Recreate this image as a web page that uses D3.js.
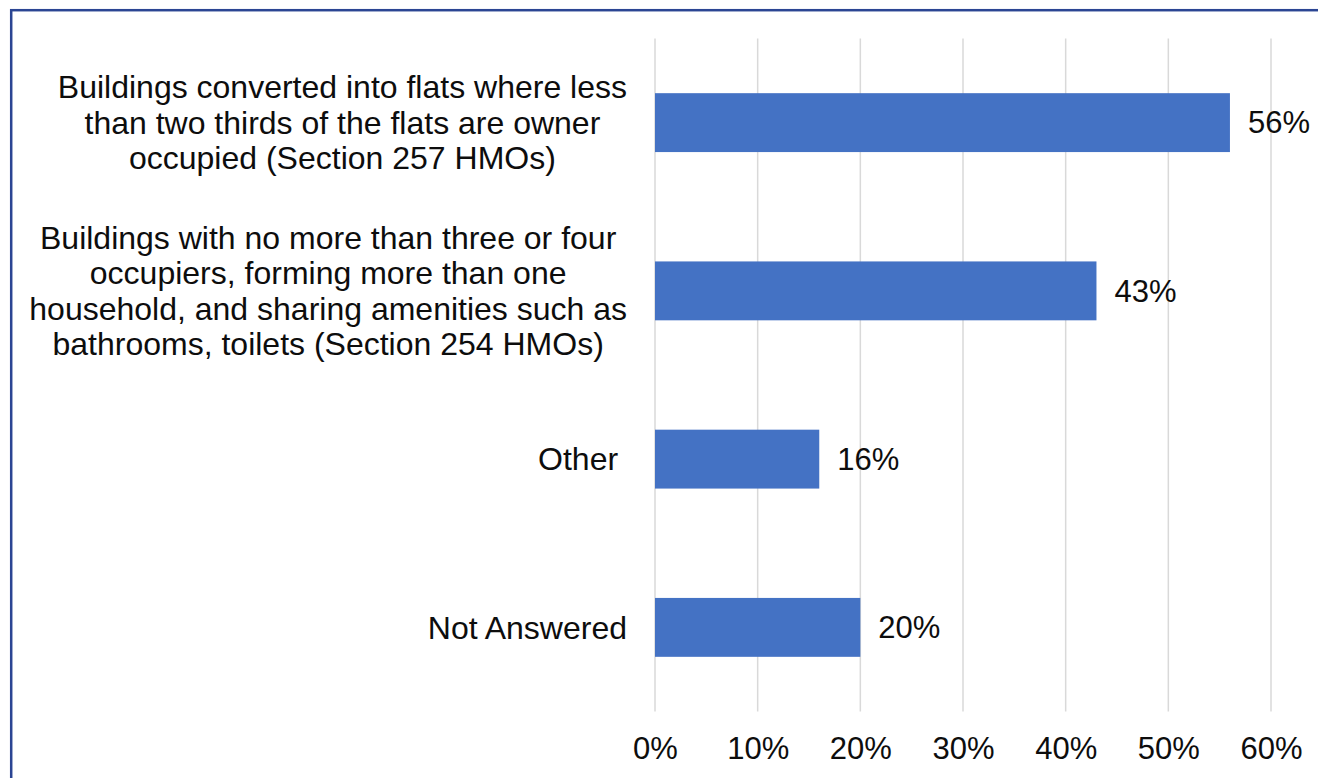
<!DOCTYPE html>
<html>
<head>
<meta charset="utf-8">
<script src="https://cdn.jsdelivr.net/npm/d3@7"></script>
<style>
  html, body { margin: 0; padding: 0; background: #ffffff; }
  svg { display: block; font-family: "Liberation Sans", Arial, sans-serif; }
</style>
</head>
<body>
<svg id="chart" width="1318" height="778"></svg>
<script>
// Category labels, one array of lines per category
const categoryLines = [
  ["Buildings converted into flats where less", "than two thirds of the flats are owner", "occupied (Section 257 HMOs)"],
  ["Buildings with no more than three or four", "occupiers, forming more than one", "household, and sharing amenities such as", "bathrooms, toilets (Section 254 HMOs)"],
  ["Other "],
  ["Not Answered"]
];
const shares = [0.56, 0.43, 0.16, 0.20];
const tickValues = [0, 0.1, 0.2, 0.3, 0.4, 0.5, 0.6];
const tickLabels = ["0%", "10%", "20%", "30%", "40%", "50%", "60%"];

const svg = d3.select("#chart");
const W = 1318, H = 778;
const fontSize = 31;
const catFontSize = 32;
const lineHeight = 35.5;
const barColor = "#4472C4";
const textColor = "#0d0d0d";

// Frame border (top and left edges visible in the canvas)
svg.append("rect")
  .attr("x", 11.2).attr("y", 10.2)
  .attr("width", W + 20).attr("height", H + 20)
  .attr("fill", "none")
  .attr("stroke", "#2B4593")
  .attr("stroke-width", 2.5);

const x = d3.scaleLinear().domain([0, 0.6]).range([655, 1271]);
const y = d3.scaleBand()
  .domain(d3.range(shares.length))
  .range([38.5, 711.5])
  .paddingInner(0.65)
  .paddingOuter(0.325);

// Vertical gridlines
svg.append("g")
  .selectAll("line")
  .data(tickValues)
  .join("line")
  .attr("x1", d => x(d)).attr("x2", d => x(d))
  .attr("y1", 38.5).attr("y2", 711.5)
  .attr("stroke", "#d9d9d9")
  .attr("stroke-width", 1.5);

// Bottom axis tick labels
const xAxis = d3.axisBottom(x)
  .tickValues(tickValues)
  .tickFormat((d, i) => tickLabels[i])
  .tickSize(0)
  .tickPadding(0);
const gx = svg.append("g")
  .attr("transform", "translate(0,737)")
  .call(xAxis);
gx.select(".domain").remove();
gx.selectAll("text")
  .attr("font-size", fontSize)
  .attr("font-family", "'Liberation Sans', Arial, sans-serif")
  .attr("fill", textColor)
  .attr("dy", "0.71em");

// Bars
svg.append("g")
  .selectAll("rect")
  .data(shares)
  .join("rect")
  .attr("x", x(0))
  .attr("y", (d, i) => y(i))
  .attr("width", d => x(d) - x(0))
  .attr("height", y.bandwidth())
  .attr("fill", barColor);

// Value labels
svg.append("g")
  .selectAll("text")
  .data(shares)
  .join("text")
  .attr("x", d => x(d) + 18)
  .attr("y", (d, i) => y(i) + y.bandwidth() / 2)
  .attr("dy", "0.35em")
  .attr("font-size", fontSize)
  .attr("fill", textColor)
  .text(d => d3.format(".0%")(d));

// Category labels: block right-aligned to the axis, lines centred within the block
const labelRight = 627;
const labels = svg.append("g");
categoryLines.forEach((lines, i) => {
  const g = labels.append("g");
  const cy = y(i) + y.bandwidth() / 2;
  const t = g.selectAll("text")
    .data(lines)
    .join("text")
    .attr("font-size", catFontSize)
    .attr("fill", textColor)
    .attr("text-anchor", "middle")
    .style("white-space", "pre")
    .attr("y", (d, k) => cy + (k - (lines.length - 1) / 2) * lineHeight)
    .attr("dy", "0.35em")
    .text(d => d);
  let maxW = 0;
  t.each(function () { maxW = Math.max(maxW, this.getComputedTextLength()); });
  t.attr("x", labelRight - maxW / 2);
});
</script>
</body>
</html>
